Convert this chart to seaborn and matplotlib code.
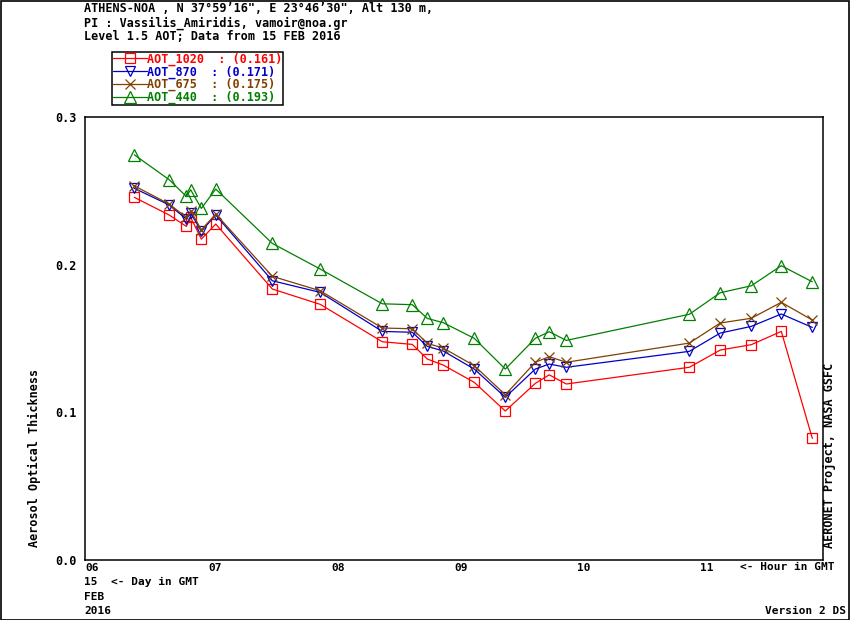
import seaborn as sns
import pandas as pd
import matplotlib
matplotlib.use('Agg')
import matplotlib.pyplot as plt
from matplotlib.patches import Rectangle

sns.set_style('white')
plt.rcParams['font.family'] = ['DejaVu Sans Mono', 'DejaVu Sans']
plt.rcParams['font.weight'] = 'bold'
plt.rcParams['font.size'] = 8.5
plt.rcParams['text.color'] = 'black'
plt.rcParams['xtick.color'] = 'black'
plt.rcParams['ytick.color'] = 'black'

# hour of day (GMT), 15 FEB 2016
hours = [6.401, 6.685, 6.824, 6.859, 6.946, 7.063, 7.523, 7.913, 8.417, 8.661, 8.783,
         8.913, 9.165, 9.417, 9.661, 9.774, 9.913, 10.913, 11.165, 11.417, 11.661, 11.913]

aot_1020 = [0.2456, 0.2336, 0.2259, 0.2320, 0.2173, 0.2275, 0.1835, 0.1731, 0.1478, 0.1460, 0.1361,
            0.1320, 0.1203, 0.1009, 0.1196, 0.1254, 0.1192, 0.1305, 0.1422, 0.1458, 0.1548, 0.0824]
aot_870 = [0.2517, 0.2404, 0.2309, 0.2349, 0.2227, 0.2336, 0.1891, 0.1812, 0.1548, 0.1542, 0.1447,
           0.1415, 0.1293, 0.1102, 0.1293, 0.1327, 0.1305, 0.1413, 0.1537, 0.1582, 0.1666, 0.1575]
aot_675 = [0.2534, 0.2410, 0.2320, 0.2365, 0.2236, 0.2343, 0.1921, 0.1823, 0.1571, 0.1566, 0.1467,
           0.1435, 0.1316, 0.1119, 0.1339, 0.1377, 0.1339, 0.1469, 0.1605, 0.1637, 0.1745, 0.1625]
aot_440 = [0.2744, 0.2575, 0.2462, 0.2507, 0.2381, 0.2512, 0.2144, 0.1970, 0.1735, 0.1729, 0.1636,
           0.1607, 0.1501, 0.1293, 0.1501, 0.1546, 0.1487, 0.1664, 0.1810, 0.1857, 0.1993, 0.1884]

series_names = ['AOT_1020', 'AOT_870', 'AOT_675', 'AOT_440']
series_means = ['0.161', '0.171', '0.175', '0.193']
colors = ['#FF0000', '#0000C8', '#804000', '#008000']
markers = ['s', 'v', 'x', '^']
hour_ticks = [6, 7, 8, 9, 10, 11]
hour_labels = ['06', '07', '08', '09', '10', '11']
y_ticks = [0.0, 0.1, 0.2, 0.3]


def plot_aot():
    fig = plt.figure(figsize=(8.5, 6.2), dpi=100)
    ax = fig.add_axes([85 / 850, 1 - 560 / 620, 738 / 850, 443 / 620])

    values = [aot_1020, aot_870, aot_675, aot_440]
    msizes = [6.5, 7, 7, 8]
    handles = []
    for name, vals, c, m, ms in zip(series_names, values, colors, markers, msizes):
        df = pd.DataFrame({'hour': hours, 'aot': vals})
        sns.lineplot(x='hour', y='aot', data=df, ax=ax, color=c, marker=m,
                     markersize=ms, markerfacecolor='none',
                     markeredgecolor=c, markeredgewidth=0.9, linewidth=0.9)
        handles.append(ax.lines[-1])

    ax.set_xlim(6, 12)
    ax.set_ylim(0, 0.3)
    ax.set(xlabel='', ylabel='')
    ax.set_xticks(hour_ticks)
    ax.set_xticklabels(hour_labels, ha='left')
    ax.set_yticks(y_ticks)
    ax.set_yticklabels(['%.1f' % v for v in y_ticks])
    ax.tick_params(axis='x', direction='out', length=7, width=1, pad=-5, labelsize=8)
    ax.tick_params(axis='y', direction='in', length=5, width=1, pad=6, labelsize=8.5)
    for sp in ax.spines.values():
        sp.set_color('black')
        sp.set_linewidth(1.1)

    labels = ['%-9s: (%s)' % (n, v) if n != 'AOT_1020' else '%-10s: (%s)' % (n, v)
              for n, v in zip(series_names, series_means)]
    leg = fig.legend(handles, labels, loc='upper left',
                     bbox_to_anchor=(112 / 850, 1 - 52 / 620), bbox_transform=fig.transFigure,
                     frameon=True, fancybox=False, edgecolor='black', framealpha=1,
                     borderpad=0.05, borderaxespad=0, handlelength=2.9, handletextpad=0.0,
                     labelspacing=-0.05, labelcolor='linecolor', fontsize=8.5)
    leg.get_frame().set_linewidth(1.1)

    fig.text(84 / 850, 1 - 9 / 620, 'ATHENS-NOA , N 37°59’16", E 23°46’30", Alt 130 m,', va='center')
    fig.text(84 / 850, 1 - 23 / 620, 'PI : Vassilis_Amiridis, vamoir@noa.gr', va='center')
    fig.text(84 / 850, 1 - 36 / 620, 'Level 1.5 AOT; Data from 15 FEB 2016', va='center')

    fig.text(34 / 850, 1 - 547 / 620, 'Aerosol Optical Thickness', rotation=90,
             ha='center', va='bottom')
    fig.text(830 / 850, 1 - 548 / 620, 'AERONET Project, NASA GSFC', rotation=90,
             ha='center', va='bottom')

    fig.text(740 / 850, 1 - 567 / 620, '<- Hour in GMT', va='center', fontsize=8)
    fig.text(84 / 850, 1 - 582 / 620, '15  <- Day in GMT', va='center', fontsize=8)
    fig.text(84 / 850, 1 - 597 / 620, 'FEB', va='center', fontsize=8)
    fig.text(84 / 850, 1 - 611 / 620, '2016', va='center', fontsize=8)
    fig.text(846 / 850, 1 - 611 / 620, 'Version 2 DS', va='center', ha='right', fontsize=8)

    fig.patches.append(Rectangle((0.0006, 0.0008), 0.9982, 0.998, transform=fig.transFigure,
                                 fill=False, edgecolor='black', linewidth=1.2))

    plt.savefig('out.png', dpi=100)


plot_aot()
